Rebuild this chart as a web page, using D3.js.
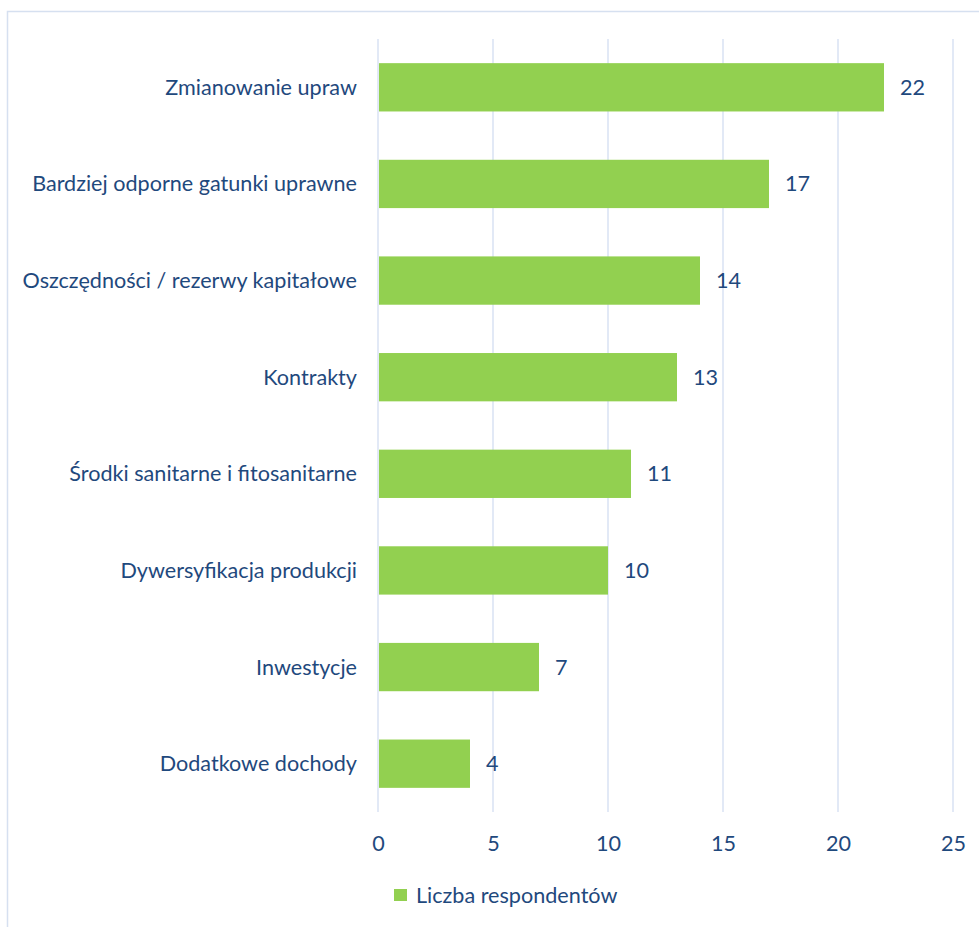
<!DOCTYPE html>
<html>
<head>
<meta charset="utf-8">
<script src="https://cdn.jsdelivr.net/npm/d3@7"></script>
<style>
  html, body { margin: 0; padding: 0; background: #ffffff; }
  svg { display: block; }
  text { font-family: Lato, "Open Sans", sans-serif; fill: #1F497D; }
</style>
</head>
<body>
<div id="chart"></div>
<script>
// Strategies reported by respondents, top to bottom
const categories = [
  "Zmianowanie upraw",
  "Bardziej odporne gatunki uprawne",
  "Oszczędności / rezerwy kapitałowe",
  "Kontrakty",
  "Środki sanitarne i fitosanitarne",
  "Dywersyfikacja produkcji",
  "Inwestycje",
  "Dodatkowe dochody"
];
const respondents = [22, 17, 14, 13, 11, 10, 7, 4];
const xTicks = [0, 5, 10, 15, 20, 25];
const seriesName = "Liczba respondentów";

const W = 979, H = 927;
const plot = { left: 378, right: 953, top: 39, bottom: 812 };
const barColor = "#92D050";
const gridColor = "#D9E2F3";
const fontSize = 21.6;

const svg = d3.select("#chart").append("svg")
  .attr("width", W).attr("height", H);

// chart frame (continues past the right and bottom edges)
svg.append("rect")
  .attr("x", 7.5).attr("y", 11.5)
  .attr("width", W + 20).attr("height", H + 20)
  .attr("fill", "#ffffff")
  .attr("stroke", "#D6E0F0").attr("stroke-width", 1.5);

const x = d3.scaleLinear().domain([0, 25]).range([plot.left, plot.right]);
const y = d3.scaleBand().domain(categories)
  .range([plot.top, plot.bottom])
  .paddingInner(0.5).paddingOuter(0.25);

// vertical gridlines
svg.append("g").selectAll("line")
  .data(xTicks).join("line")
  .attr("x1", d => x(d)).attr("x2", d => x(d))
  .attr("y1", plot.top).attr("y2", plot.bottom)
  .attr("stroke", gridColor).attr("stroke-width", 1.5);

// x axis labels
const xAxis = d3.axisBottom(x).tickValues(xTicks).tickSize(0).tickPadding(0);
const gx = svg.append("g").attr("transform", `translate(0,${plot.bottom})`).call(xAxis);
gx.select(".domain").remove();
gx.selectAll("text")
  .attr("y", 31).attr("dy", "0.35em")
  .attr("font-size", fontSize)
  .style("font-family", "Lato, 'Open Sans', sans-serif")
  .attr("fill", "#1F497D");

// bars
const rowData = categories.map((c, i) => ({ c, v: respondents[i] }));
svg.append("g").selectAll("rect")
  .data(rowData).join("rect")
  .attr("x", x(0) + 1)
  .attr("y", d => y(d.c))
  .attr("width", d => x(d.v) - x(0) - 1)
  .attr("height", y.bandwidth())
  .attr("fill", barColor);

// category labels
svg.append("g").selectAll("text")
  .data(rowData).join("text")
  .attr("x", plot.left - 21)
  .attr("y", d => y(d.c) + y.bandwidth() / 2)
  .attr("dy", "0.35em")
  .attr("text-anchor", "end")
  .attr("font-size", fontSize)
  .text(d => d.c);

// value labels
svg.append("g").selectAll("text")
  .data(rowData).join("text")
  .attr("x", d => x(d.v) + 16)
  .attr("y", d => y(d.c) + y.bandwidth() / 2)
  .attr("dy", "0.35em")
  .attr("font-size", fontSize)
  .text(d => d.v);

// legend
const lg = svg.append("g").attr("transform", "translate(394,889)");
lg.append("rect").attr("width", 13).attr("height", 12).attr("fill", barColor);
lg.append("text").attr("x", 22).attr("y", 6).attr("dy", "0.35em")
  .attr("font-size", fontSize).text(seriesName);
</script>
</body>
</html>
